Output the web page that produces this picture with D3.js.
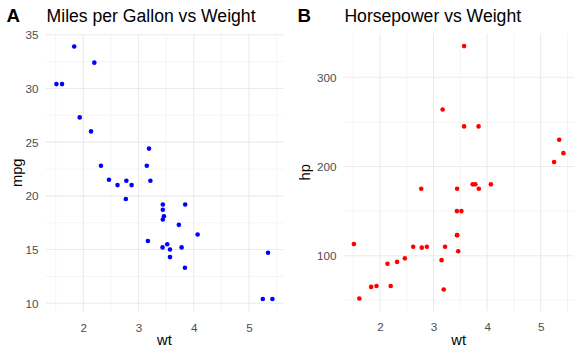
<!DOCTYPE html>
<html><head><meta charset="utf-8">
<script src="https://cdn.jsdelivr.net/npm/d3@7"></script>
<style>body{margin:0;background:#fff}svg{display:block}text{font-family:"Liberation Sans",Arial,sans-serif}</style>
</head><body><svg id="c" width="581" height="355"></svg>
<script>
const wt  = [2.620,2.875,2.320,3.215,3.440,3.460,3.570,3.190,3.150,3.440,3.440,4.070,3.730,3.780,5.250,5.424,5.345,2.200,1.615,1.835,2.465,3.520,3.435,3.840,3.845,1.935,2.140,1.513,3.170,2.770,3.570,2.780];
const mpg = [21.0,21.0,22.8,21.4,18.7,18.1,14.3,24.4,22.8,19.2,17.8,16.4,17.3,15.2,10.4,10.4,14.7,32.4,30.4,33.9,21.5,15.5,15.2,13.3,19.2,27.3,26.0,30.4,15.8,19.7,15.0,21.4];
const hp  = [110,110,93,110,175,105,245,62,95,123,123,180,180,180,205,215,230,66,52,65,97,150,150,245,175,66,91,113,264,175,335,109];
const xTicks = [2,3,4,5], xMinor = [1.5,2.5,3.5,4.5,5.5];
const mpgTicks = [10,15,20,25,30,35], mpgMinor = [12.5,17.5,22.5,27.5,32.5];
const hpTicks = [100,200,300], hpMinor = [50,150,250,350];

const svg = d3.select("#c");
function expand(ext){const p=(ext[1]-ext[0])*0.05;return [ext[0]-p,ext[1]+p];}

function panel(o){
  const g = svg.append("g");
  const x = d3.scaleLinear().domain(expand(d3.extent(wt))).range([o.left,o.right]);
  const y = d3.scaleLinear().domain(expand(d3.extent(o.yv))).range([o.bottom,o.top]);
  const grid = g.append("g");
  o.yMinor.filter(v=>v>=y.domain()[0]&&v<=y.domain()[1]).forEach(v=>grid.append("line").attr("x1",o.left).attr("x2",o.right).attr("y1",y(v)).attr("y2",y(v)).attr("stroke","#EBEBEB").attr("stroke-width",0.55));
  xMinor.filter(v=>v>=x.domain()[0]&&v<=x.domain()[1]).forEach(v=>grid.append("line").attr("y1",o.top).attr("y2",o.bottom).attr("x1",x(v)).attr("x2",x(v)).attr("stroke","#EBEBEB").attr("stroke-width",0.55));
  o.yTicks.forEach(v=>grid.append("line").attr("x1",o.left).attr("x2",o.right).attr("y1",y(v)).attr("y2",y(v)).attr("stroke","#EBEBEB").attr("stroke-width",1.07));
  xTicks.forEach(v=>grid.append("line").attr("y1",o.top).attr("y2",o.bottom).attr("x1",x(v)).attr("x2",x(v)).attr("stroke","#EBEBEB").attr("stroke-width",1.07));
  // axes labels via d3 axes (no lines)
  const ax = g.append("g").attr("transform",`translate(0,${o.bottom})`).call(d3.axisBottom(x).tickValues(xTicks).tickSize(0).tickPadding(12).tickFormat(d3.format("d")));
  const ay = g.append("g").attr("transform",`translate(${o.left},0)`).call(d3.axisLeft(y).tickValues(o.yTicks).tickSize(0).tickPadding(7).tickFormat(d3.format("d")));
  [ax,ay].forEach(a=>{a.select(".domain").remove();a.selectAll("text").attr("fill","#4D4D4D").style("font-size","11.7px").style("font-family","'Liberation Sans',Arial,sans-serif");});
  ay.selectAll("text").attr("dy","0.35em");
  g.selectAll("circle").data(wt).join("circle").attr("cx",d=>x(d)).attr("cy",(d,i)=>y(o.yv[i])).attr("r",2.3).attr("fill",o.color);
  g.append("text").attr("x",(o.left+o.right)/2).attr("y",345).attr("text-anchor","middle").style("font-size","14.7px").text("wt");
  g.append("text").attr("transform",`translate(${o.ylabX},${(o.top+o.bottom)/2}) rotate(-90)`).attr("text-anchor","middle").style("font-size","14.7px").text(o.ylab);
  g.append("text").attr("x",o.left+1).attr("y",22).style("font-size","17.6px").text(o.title);
  g.append("text").attr("x",o.tagX).attr("y",22).style("font-size","18.7px").style("font-weight","bold").text(o.tag);
}
panel({left:45.6,right:283.2,top:33.9,bottom:311.6,yv:mpg,yTicks:mpgTicks,yMinor:mpgMinor,color:"#0000FF",ylab:"mpg",ylabX:21.5,title:"Miles per Gallon vs Weight",tag:"A",tagX:6.5});
panel({left:343.4,right:573.9,top:33.5,bottom:311.1,yv:hp,yTicks:hpTicks,yMinor:hpMinor,color:"#FF0000",ylab:"hp",ylabX:310,title:"Horsepower vs Weight",tag:"B",tagX:297.5});
</script></body></html>
